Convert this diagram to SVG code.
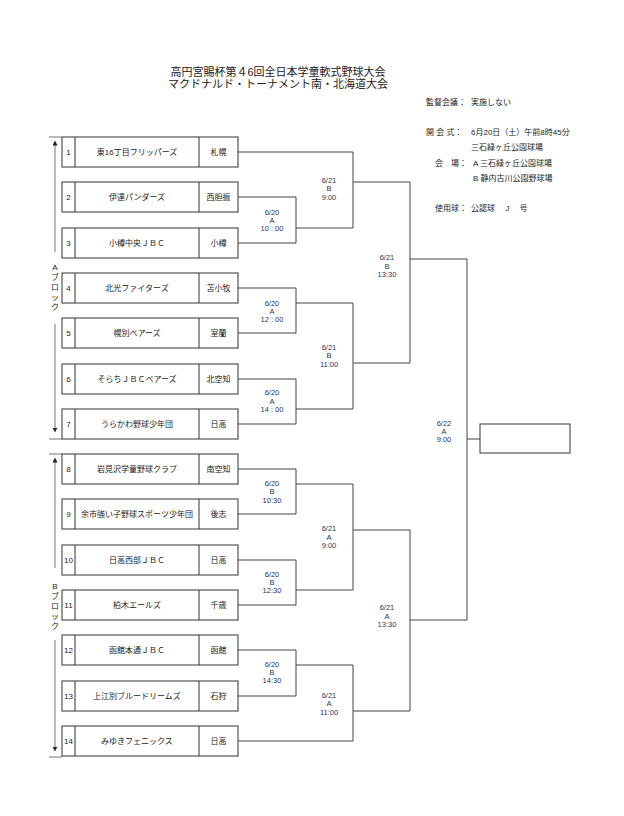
<svg xmlns="http://www.w3.org/2000/svg" width="624" height="816" viewBox="0 0 624 816">
<style>
text{font-family:"Liberation Sans","Noto Sans CJK JP",sans-serif;fill:#222}
.t{font-size:11px;text-anchor:middle}
.i{font-size:8px}
.n{font-size:8px;text-anchor:middle}
.l{font-size:7.5px;text-anchor:middle;fill:#1f3660}
#connectors path{fill:none;stroke:#444;stroke-width:1}
.ar{stroke:#777;stroke-width:1;fill:none}
</style>
<defs>
<marker id="ah" viewBox="0 0 6 6" refX="3" refY="3" markerWidth="5" markerHeight="5" orient="auto"><path d="M0,0L6,3L0,6z" fill="#222"/></marker>
<g id="row" fill="#fff" stroke="#333" stroke-width="1"><rect x="62" y="0" width="176" height="30"/><line x1="75" y1="0" x2="75" y2="30"/><line x1="199" y1="0" x2="199" y2="30"/></g>
</defs>
<text class="t" x="278" y="76">高円宮賜杯第４6回全日本学童軟式野球大会</text>
<text class="t" x="278" y="88">マクドナルド・トーナメント南・北海道大会</text>
<g id="info" class="i">
<text x="426" y="105">監督会議：</text><text x="471" y="105">実施しない</text>
<text x="426" y="135">開 会 式：</text><text x="471" y="135">6月20日（土）午前8時45分</text>
<text x="471" y="150">三石緑ヶ丘公園球場</text>
<text x="435" y="166">会　場：</text><text x="473" y="166">A  三石緑ヶ丘公園球場</text>
<text x="473" y="181">B  静内古川公園野球場</text>
<text x="435" y="211">使用球：</text><text x="471" y="211">公認球　 J　 号</text>
</g>
<g id="blocks">
<path class="ar" d="M49,137H62M49,439H62M49,454H62M49,757H62"/>
<path class="ar" d="M55,252V143" marker-end="url(#ah)"/>
<path class="ar" d="M55,324V430" marker-end="url(#ah)"/>
<path class="ar" d="M55,568V460" marker-end="url(#ah)"/>
<path class="ar" d="M55,640V749" marker-end="url(#ah)"/>
<text class="n" x="55" y="270">A</text><text class="n" x="55" y="280">ブ</text><text class="n" x="55" y="290">ロ</text><text class="n" x="55" y="300">ッ</text><text class="n" x="55" y="310">ク</text>
<text class="n" x="55" y="589">B</text><text class="n" x="55" y="599">ブ</text><text class="n" x="55" y="609">ロ</text><text class="n" x="55" y="619">ッ</text><text class="n" x="55" y="629">ク</text>
</g>
<g id="team1"><use href="#row" y="137"/><text class="n" x="68.5" y="155">1</text><text class="n" x="137" y="155">東16丁目フリッパーズ</text><text class="n" x="218.5" y="155">札幌</text></g>
<g id="team2"><use href="#row" y="182"/><text class="n" x="68.5" y="200">2</text><text class="n" x="137" y="200">伊達パンダーズ</text><text class="n" x="218.5" y="200">西胆振</text></g>
<g id="team3"><use href="#row" y="228"/><text class="n" x="68.5" y="246">3</text><text class="n" x="137" y="246">小樽中央ＪＢＣ</text><text class="n" x="218.5" y="246">小樽</text></g>
<g id="team4"><use href="#row" y="273"/><text class="n" x="68.5" y="291">4</text><text class="n" x="137" y="291">北光ファイターズ</text><text class="n" x="218.5" y="291">苫小牧</text></g>
<g id="team5"><use href="#row" y="318"/><text class="n" x="68.5" y="336">5</text><text class="n" x="137" y="336">幌別ベアーズ</text><text class="n" x="218.5" y="336">室蘭</text></g>
<g id="team6"><use href="#row" y="364"/><text class="n" x="68.5" y="382">6</text><text class="n" x="137" y="382">そらちＪＢＣベアーズ</text><text class="n" x="218.5" y="382">北空知</text></g>
<g id="team7"><use href="#row" y="409"/><text class="n" x="68.5" y="427">7</text><text class="n" x="137" y="427">うらかわ野球少年団</text><text class="n" x="218.5" y="427">日高</text></g>
<g id="team8"><use href="#row" y="454"/><text class="n" x="68.5" y="472">8</text><text class="n" x="137" y="472">岩見沢学童野球クラブ</text><text class="n" x="218.5" y="472">南空知</text></g>
<g id="team9"><use href="#row" y="499"/><text class="n" x="68.5" y="517">9</text><text class="n" x="137" y="517">余市強い子野球スポーツ少年団</text><text class="n" x="218.5" y="517">後志</text></g>
<g id="team10"><use href="#row" y="545"/><text class="n" x="68.5" y="563">10</text><text class="n" x="137" y="563">日高西部ＪＢＣ</text><text class="n" x="218.5" y="563">日高</text></g>
<g id="team11"><use href="#row" y="590"/><text class="n" x="68.5" y="608">11</text><text class="n" x="137" y="608">柏木エールズ</text><text class="n" x="218.5" y="608">千歳</text></g>
<g id="team12"><use href="#row" y="635"/><text class="n" x="68.5" y="653">12</text><text class="n" x="137" y="653">函館本通ＪＢＣ</text><text class="n" x="218.5" y="653">函館</text></g>
<g id="team13"><use href="#row" y="681"/><text class="n" x="68.5" y="699">13</text><text class="n" x="137" y="699">上江別ブルードリームズ</text><text class="n" x="218.5" y="699">石狩</text></g>
<g id="team14"><use href="#row" y="726"/><text class="n" x="68.5" y="744">14</text><text class="n" x="137" y="744">みゆきフェニックス</text><text class="n" x="218.5" y="744">日高</text></g>
<g id="champion"><rect x="480" y="424" width="90" height="29" fill="#fff" stroke="#333"/></g>
<g id="connectors">
<path d="M238,197H296V243H238M296,228H353"/>
<path d="M238,288H296V333H238M296,303H353"/>
<path d="M238,379H296V424H238M296,409H353"/>
<path d="M238,469H296V514H238M296,484H353"/>
<path d="M238,560H296V605H238M296,590H353"/>
<path d="M238,650H296V696H238M296,665H353"/>
<path d="M238,152H353V228M353,182H410"/>
<path d="M353,303V409M353,363H410"/>
<path d="M353,484V590M353,530H410"/>
<path d="M238,741H353V665M353,711H410"/>
<path d="M410,182V363M410,259H467"/>
<path d="M410,530V711M410,620H467"/>
<path d="M467,259V620M467,439H480"/>
</g>
<g id="labels">
<text class="l" x="272" y="215">6/20</text><text class="l" x="272" y="223">A</text><text class="l" x="272" y="231">10 : 00</text>
<text class="l" x="272" y="306">6/20</text><text class="l" x="272" y="314">A</text><text class="l" x="272" y="322">12 : 00</text>
<text class="l" x="272" y="395">6/20</text><text class="l" x="272" y="404">A</text><text class="l" x="272" y="412">14 : 00</text>
<text class="l" x="272" y="486">6/20</text><text class="l" x="272" y="494">B</text><text class="l" x="272" y="503">10:30</text>
<text class="l" x="272" y="577">6/20</text><text class="l" x="272" y="585">B</text><text class="l" x="272" y="593">12:30</text>
<text class="l" x="272" y="667">6/20</text><text class="l" x="272" y="675">B</text><text class="l" x="272" y="683">14:30</text>
<text class="l" x="329" y="183">6/21</text><text class="l" x="329" y="191">B</text><text class="l" x="329" y="200">9:00</text>
<text class="l" x="329" y="350">6/21</text><text class="l" x="329" y="358">B</text><text class="l" x="329" y="367">11:00</text>
<text class="l" x="329" y="531">6/21</text><text class="l" x="329" y="540">A</text><text class="l" x="329" y="548">9:00</text>
<text class="l" x="329" y="698">6/21</text><text class="l" x="329" y="706">A</text><text class="l" x="329" y="715">11:00</text>
<text class="l" x="387" y="260">6/21</text><text class="l" x="387" y="268.5">B</text><text class="l" x="387" y="277">13:30</text>
<text class="l" x="387" y="610">6/21</text><text class="l" x="387" y="619">A</text><text class="l" x="387" y="627">13:30</text>
<text class="l" x="444" y="426">6/22</text><text class="l" x="444" y="434">A</text><text class="l" x="444" y="442">9:00</text>
</g>
</svg>
